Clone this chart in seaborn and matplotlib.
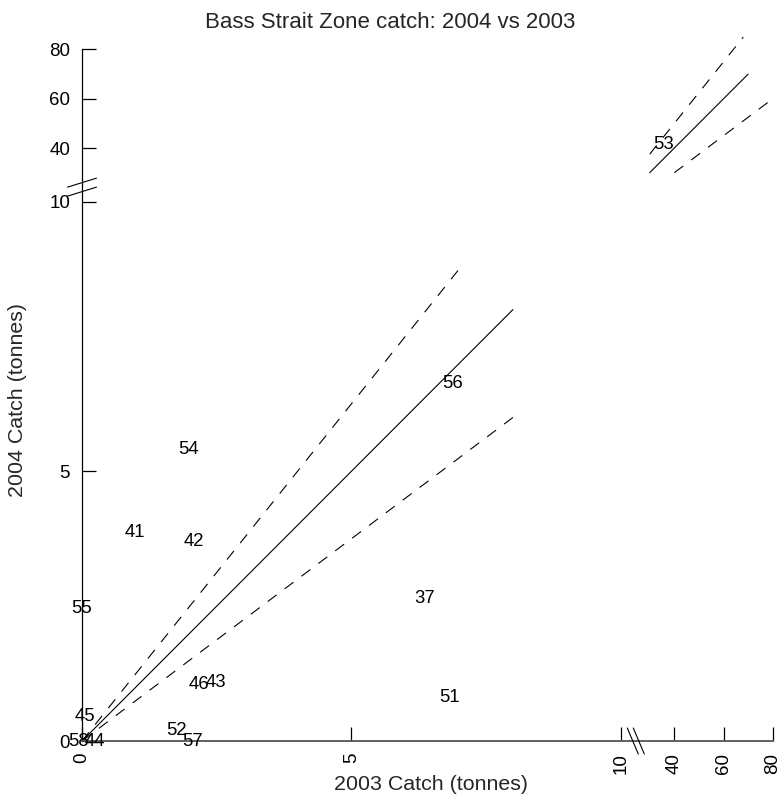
import numpy as np
import matplotlib
matplotlib.use("Agg")
import matplotlib.pyplot as plt
from matplotlib.lines import Line2D
from matplotlib.transforms import IdentityTransform
import seaborn as sns

# zone labels and catches (tonnes)
zones = ["37", "41", "42", "43", "44", "45", "46", "51", "52", "53", "54", "55", "56", "57", "58"]
catch_2003 = [6.35, 0.98, 2.08, 2.49, 0.24, 0.05, 2.17, 6.83, 1.76, 35.5, 1.97, 0.0, 6.87, 2.06, -0.07]
catch_2004 = [2.65, 3.86, 3.69, 1.09, 0.0, 0.45, 1.04, 0.80, 0.19, 41.3, 5.40, 2.45, 6.62, 0.0, 0.0]

# reference lines: 1:1 and +/-25 %, drawn separately for the low and the high range
low_x = [0, 8]
low_x_upper = [0, 7]
high_x = [30, 70]
high_x_upper = [30, 68]
high_x_lower = [40, 80]
slopes = {"1:1": 1.0, "+25%": 1.25, "-25%": 0.75}

tick_vals = [0, 5, 10, 40, 60, 80]

# broken axis: 0..G1 at full scale, G2.. compressed
G1, G2, D, K = 10.3, 25.0, 0.01, 0.0457


def fwd(v):
    v = np.asarray(v, dtype=float)
    mid = G1 + (v - G1) / (G2 - G1) * D
    hi = G1 + D + (v - G2) * K
    return np.where(v <= G1, v, np.where(v >= G2, hi, mid))


def inv(u):
    u = np.asarray(u, dtype=float)
    mid = G1 + (u - G1) / D * (G2 - G1)
    hi = G2 + (u - G1 - D) / K
    return np.where(u <= G1, u, np.where(u >= G1 + D, hi, mid))


sns.set_theme(style="white")
plt.rcParams['font.family'] = ['Liberation Sans', 'DejaVu Sans']

W, H = 781, 801
fig = plt.figure(figsize=(W / 100, H / 100), dpi=100)

# pixel layout (from top-left) of the reference
X0, XU = 82, 53.87     # x=0 pixel, pixels per unit
Y0, YU = 741, 53.93    # y=0 pixel (from top), pixels per unit
L, R, T, B = 50, 777, 30, 752

ax = fig.add_axes([L / W, (H - B) / H, (R - L) / W, (B - T) / H])
ax.set_xscale('function', functions=(fwd, inv))
ax.set_yscale('function', functions=(fwd, inv))
ax.set_xlim(float(inv((L - X0) / XU)), float(inv((R - X0) / XU)))
ax.set_ylim(float(inv((Y0 - B) / YU)), float(inv((Y0 - T) / YU)))

lw = 0.8
dash = (0, (10, 9))
for xs in (low_x, high_x):
    sns.lineplot(x=xs, y=[slopes["1:1"] * v for v in xs], ax=ax, color="black", lw=lw)
for xs in (low_x_upper, high_x_upper):
    sns.lineplot(x=xs, y=[slopes["+25%"] * v for v in xs], ax=ax, color="black",
                 lw=lw, dashes=False, linestyle=dash)
for xs in (low_x, high_x_lower):
    sns.lineplot(x=xs, y=[slopes["-25%"] * v for v in xs], ax=ax, color="black",
                 lw=lw, dashes=False, linestyle=dash)

for z, x, y in zip(zones, catch_2003, catch_2004):
    ax.text(x, y, z, ha="center", va="center", fontsize=13.3, color="black")

for s in ["top", "right"]:
    ax.spines[s].set_visible(False)
ax.spines["left"].set_position(("data", 0))
ax.spines["bottom"].set_position(("data", 0))
ax.spines["left"].set_bounds(0, 80)
ax.spines["bottom"].set_bounds(0, 80)
ax.spines["left"].set_color("black")
ax.spines["left"].set_linewidth(0.9)
ax.spines["bottom"].set_color("#555555")
ax.spines["bottom"].set_linewidth(1.3)

ax.set_xticks(tick_vals)
ax.set_yticks(tick_vals)
ax.set_xticklabels([str(t) for t in tick_vals], rotation=90)
ax.set_yticklabels([str(t) for t in tick_vals])
ax.tick_params(direction="in", length=10, width=0.9, color="black", labelsize=13.5,
               labelcolor="black", pad=8.5, bottom=True, left=True)
ax.grid(False)

# break marks on both axes
idt = IdentityTransform()
bx, by = ax.transData.transform((10.28, 0))
for off in (-3, 3):
    fig.add_artist(Line2D([bx + off - 5.5, bx + off + 5.5], [by + 13, by - 13],
                          transform=idt, color="black", lw=0.8))
cx, cy = ax.transData.transform((0, 10.27))
for off in (-4.5, 4.5):
    fig.add_artist(Line2D([cx - 14.5, cx + 14.5], [cy + off - 4.5, cy + off + 4.5],
                          transform=idt, color="black", lw=0.8))

fig.text(390 / W, 1 - 22 / H, "Bass Strait Zone catch: 2004 vs 2003",
         ha="center", va="center", fontsize=16)
fig.text(431 / W, 1 - 785 / H, "2003 Catch (tonnes)", ha="center", va="center", fontsize=15.4)
fig.text(18 / W, 1 - 400 / H, "2004 Catch (tonnes)", ha="center", va="center",
         rotation=90, fontsize=15.4)

fig.savefig("out.png", dpi=100)
